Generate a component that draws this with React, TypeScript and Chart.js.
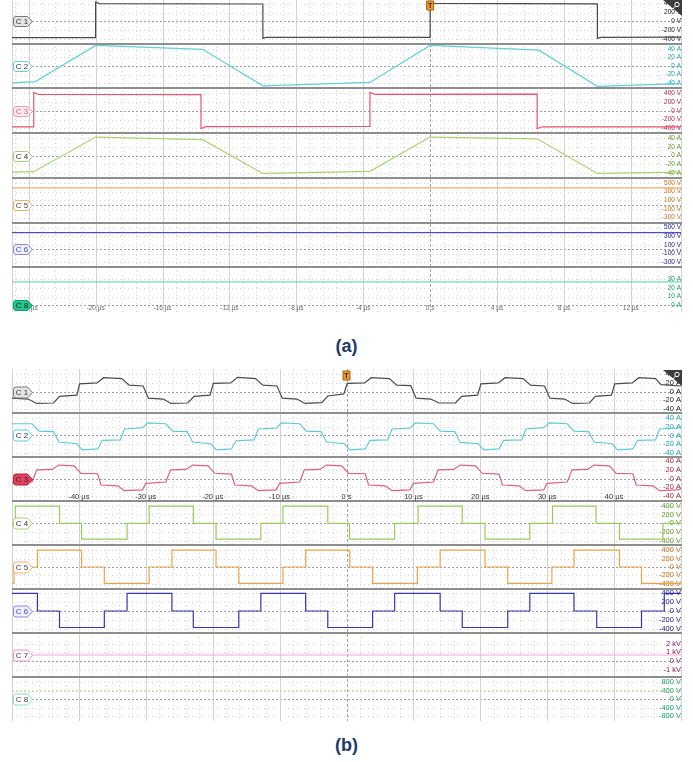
import React, { useEffect, useRef } from "react";
import { Chart, registerables } from "chart.js";

Chart.register(...registerables);

// ================= Panel (a) data =================
const A_TIME_MIN = -25;
const A_TIME_MAX = 15;
const A_TIME_TICKS = [-24, -20, -16, -12, -8, -4, 0, 4, 8, 12];
const A_TIME_LABELS = ["-24 µs", "-20 µs", "-16 µs", "-12 µs", "-8 µs", "-4 µs", "0 s", "4 µs", "8 µs", "12 µs"];

const A_C1_T = [-25, -20, -20, -19.8, -10, -10, -9.8, 0, 0, 0.2, 10, 10, 10.2, 15];
const A_C1_V = [-368, -366, 440, 400, 392, -385, -362, -360, 440, 408, 395, -385, -362, -358];

const A_C2_T = [-25, -23.6, -20, -13.6, -10, -3.6, 0, 6.5, 10, 15];
const A_C2_V = [-39, -36, 48, 39, -46, -38, 48, 37, -47, -41];

const A_C3_T = [-25, -23.7, -23.7, -23.4, -13.7, -13.7, -13.4, -3.6, -3.6, -3.3, 6.4, 6.4, 6.7, 15];
const A_C3_V = [-368, -368, 420, 372, 368, -405, -360, -356, 420, 375, 378, -405, -365, -368];

const A_C4_T = [-25, -23.7, -20, -13.6, -10, -3.6, 0, 6.4, 10, 15];
const A_C4_V = [-38, -37, 42, 36, -41, -36, 42, 38, -41, -38];

const A_C5_T = [-25, 15];
const A_C5_V = [384, 384];
const A_C6_T = [-25, 15];
const A_C6_V = [384, 384];
const A_C8_T = [-25, 15];
const A_C8_V = [27, 27];

const A_C1_TICKS = [400, 200, 0, -200, -400];
const A_C2_TICKS = [40, 20, 0, -20, -40];
const A_C3_TICKS = [400, 200, 0, -200, -400];
const A_C4_TICKS = [40, 20, 0, -20, -40];
const A_C5_TICKS = [500, 300, 100, -100, -300];
const A_C6_TICKS = [500, 300, 100, -100, -300];
const A_C8_TICKS = [30, 20, 10, 0];

// ================= Panel (b) data =================
const B_TIME_MIN = -50;
const B_TIME_MAX = 50;
const B_TIME_TICKS = [-40, -30, -20, -10, 0, 10, 20, 30, 40];
const B_TIME_LABELS = ["-40 µs", "-30 µs", "-20 µs", "-10 µs", "0 s", "10 µs", "20 µs", "30 µs", "40 µs"];

const B_C1_T = [-50, -47.6, -46.3, -43.8, -42.9, -40.3,
  -39.9, -37.3, -36.3, -33.6, -32.5, -30.4, -29.6, -27.4, -26.2, -23.7, -22.8, -20.4,
  -19.9, -17.3, -16.3, -13.6, -12.5, -10.4, -9.6, -7.4, -6.2, -3.7, -2.8, -0.4,
  0.1, 2.7, 3.7, 6.4, 7.5, 9.6, 10.4, 12.6, 13.8, 16.3, 17.2, 19.6,
  20.1, 22.7, 23.7, 26.4, 27.5, 29.6, 30.4, 32.6, 33.8, 36.3, 37.2, 39.6,
  40.1, 42.7, 43.7, 46.2, 47.0, 50];
const B_C1_V = [-15, -17, -27, -26, -11, -8,
  18, 20, 32, 30, 15, 13, -15, -17, -27, -26, -11, -8,
  19, 20, 33, 30, 15, 13, -15, -17, -27, -25, -10, -5,
  19, 20, 32, 30, 15, 14, -15, -17, -26, -26, -11, -8,
  18, 20, 32, 30, 15, 13, -15, -17, -27, -26, -11, -8,
  18, 20, 32, 30, 16, 13];

const B_C2_T = [-50, -47.0, -46.0, -43.8, -43.0, -40.3, -39.5, -37.2, -36.5, -33.8,
  -33.2, -30.5, -29.7, -27.0, -26.0, -23.8, -23.0, -20.3, -19.5, -17.2, -16.5, -13.8,
  -13.2, -10.5, -9.7, -7.0, -6.0, -3.8, -3.0, -0.3, 0.5, 2.8, 3.5, 6.2,
  6.8, 9.5, 10.3, 13.0, 14.0, 16.2, 17.0, 19.7, 20.5, 22.8, 23.5, 26.2,
  26.8, 29.5, 30.3, 33.0, 34.0, 36.2, 37.0, 39.7, 40.5, 42.8, 43.5, 46.2,
  46.8, 49.5, 50];
const B_C2_V = [27, 27, 10, 9, -15, -19, -33, -31, -11, -10,
  15, 18, 29, 27, 10, 9, -15, -19, -33, -31, -12, -10,
  15, 17, 29, 27, 10, 9, -15, -19, -33, -31, -11, -10,
  15, 17, 29, 27, 10, 9, -16, -19, -33, -31, -11, -10,
  15, 18, 29, 27, 10, 9, -15, -19, -33, -31, -11, -10,
  15, 17, 22];

const B_C3_T = [-50, -47.0,
  -46.3, -44.0, -43.0, -40.7, -39.7, -37.2, -36.7, -34.2, -33.2, -30.5, -30.0, -27.0,
  -26.3, -24.0, -23.0, -20.7, -19.7, -17.2, -16.7, -14.2, -13.2, -10.5, -10.0, -7.0,
  -6.3, -4.0, -3.0, -0.7, 0.3, 2.8, 3.3, 5.8, 6.8, 9.5, 10.0, 13.0,
  13.7, 16.0, 17.0, 19.3, 20.3, 22.8, 23.3, 25.8, 26.8, 29.5, 30.0, 33.0,
  33.7, 36.0, 37.0, 39.3, 40.3, 42.8, 43.3, 45.8, 46.8, 49.5, 50];
const B_C3_V = [-10, -8,
  20, 21, 31, 29, 12, 11, -15, -17, -28, -26, -11, -8,
  20, 21, 31, 29, 12, 10, -15, -17, -28, -26, -11, -8,
  20, 21, 31, 29, 12, 11, -15, -17, -28, -26, -11, -8,
  20, 21, 31, 29, 12, 10, -15, -17, -28, -26, -11, -8,
  20, 21, 31, 29, 12, 11, -15, -17, -28, -26, -24];

const B_C4_T = [-50, -49.5, -42.9, -39.6, -32.8, -29.5, -22.9, -19.5, -12.8, -9.5, -2.8, 0.45, 7.2, 10.7, 17.3, 20.7, 27.4, 30.8, 37.3, 40.8, 47.3, 50];
const B_C4_V = [0, 390, 0, -360, 0, 390, 0, -360, 0, 390, 0, -360, 0, 390, 0, -360, 0, 390, 0, -360, 0, 0];

const B_C5_T = [-50, -49.7, -46.2, -39.6, -36.2, -29.5, -26.1, -19.5, -16.1, -9.5, -6.1, 0.5, 3.9, 10.6, 14.0, 20.7, 24.1, 30.7, 34.0, 40.8, 44.1, 50];
const B_C5_V = [-390, 0, 400, 0, -390, 0, 400, 0, -390, 0, 400, 0, -390, 0, 400, 0, -390, 0, 400, 0, -390, -390];

const B_C6_T = [-50, -46.2, -42.9, -36.2, -32.8, -26.1, -22.9, -16.1, -12.8, -6.1, -2.8, 3.9, 7.2, 14.0, 17.3, 24.1, 27.4, 34.0, 37.4, 44.1, 47.5, 50];
const B_C6_V = [400, 0, -375, 0, 400, 0, -375, 0, 400, 0, -375, 0, 400, 0, -375, 0, 400, 0, -375, 0, 400, 400];

const B_C7_T = [-50, 50];
const B_C7_V = [690, 690];
const B_C8_T = [-50, 50];
const B_C8_V = [390, 390];

const B_C1_TICKS = [40, 20, 0, -20, -40];
const B_C2_TICKS = [40, 20, 0, -20, -40];
const B_C3_TICKS = [40, 20, 0, -20, -40];
const B_C4_TICKS = [400, 200, 0, -200, -400];
const B_C5_TICKS = [400, 200, 0, -200, -400];
const B_C6_TICKS = [400, 200, 0, -200, -400];
const B_C7_TICKS = [2000, 1000, 0, -1000];
const B_C8_TICKS = [800, 400, 0, -400, -800];

// ================= channel configuration =================
const PANEL_A = {
  key: "a",
  xMin: A_TIME_MIN, xMax: A_TIME_MAX, major: 4, minor: 0.8,
  timeTicks: A_TIME_TICKS, timeLabels: A_TIME_LABELS,
  labelAxis: "c8", labelOffset: 4, labelFont: '6.5px "Liberation Sans", Arial', labelColor: "#6b6b6b",
  tickFont: 6.5, tagH: 10,
  channels: [
    { id: "c1", name: "C 1", t: A_C1_T, v: A_C1_V, ticks: A_C1_TICKS, min: -505, max: 505, unit: "V", color: "#4a4a4a", tickColor: "#222", tagFill: "#e4e4e4", tagStroke: "#7a7a7a", tagText: "#333" },
    { id: "c2", name: "C 2", t: A_C2_T, v: A_C2_V, ticks: A_C2_TICKS, min: -52, max: 52, unit: "A", color: "#62cfdc", tickColor: "#1aa3b3", tagFill: "#ffffff", tagStroke: "#62cfdc", tagText: "#333" },
    { id: "c3", name: "C 3", t: A_C3_T, v: A_C3_V, ticks: A_C3_TICKS, min: -510, max: 510, unit: "V", color: "#e8566f", tickColor: "#ad2a40", tagFill: "#fde9ee", tagStroke: "#f39ab0", tagText: "#e0607a" },
    { id: "c4", name: "C 4", t: A_C4_T, v: A_C4_V, ticks: A_C4_TICKS, min: -51, max: 51, unit: "A", color: "#a6d46c", tickColor: "#5e9a20", tagFill: "#ffffff", tagStroke: "#a6d46c", tagText: "#333" },
    { id: "c5", name: "C 5", t: A_C5_T, v: A_C5_V, ticks: A_C5_TICKS, min: -414, max: 614, unit: "V", color: "#f5ad62", tickColor: "#c0701c", tagFill: "#ffffff", tagStroke: "#f5ad62", tagText: "#444" },
    { id: "c6", name: "C 6", t: A_C6_T, v: A_C6_V, ticks: A_C6_TICKS, min: -414, max: 614, unit: "V", color: "#4d4dc6", tickColor: "#1e1e7e", tagFill: "#eef0ff", tagStroke: "#8a8ae0", tagText: "#4545c0" },
    { id: "c8", name: "C 8", t: A_C8_T, v: A_C8_V, ticks: A_C8_TICKS, min: -7.7, max: 43.7, unit: "A", color: "#6ddcb6", tickColor: "#17a06e", tagFill: "#1fc68c", tagStroke: "#12a070", tagText: "#1a1a1a" },
  ],
};

const PANEL_B = {
  key: "b",
  xMin: B_TIME_MIN, xMax: B_TIME_MAX, major: 10, minor: 2,
  timeTicks: B_TIME_TICKS, timeLabels: B_TIME_LABELS,
  labelAxis: "c3", labelOffset: 4, labelFont: '7.5px "Liberation Sans", Arial', labelColor: "#333",
  tickFont: 7.5, tagH: 11,
  channels: [
    { id: "c1", name: "C 1", t: B_C1_T, v: B_C1_V, ticks: B_C1_TICKS, min: -49, max: 52, unit: "A", color: "#4a4a4a", tickColor: "#222", tagFill: "#e4e4e4", tagStroke: "#7a7a7a", tagText: "#333" },
    { id: "c2", name: "C 2", t: B_C2_T, v: B_C2_V, ticks: B_C2_TICKS, min: -49.5, max: 51.8, unit: "A", color: "#5ccbd9", tickColor: "#1aa3b3", tagFill: "#ffffff", tagStroke: "#5ccbd9", tagText: "#333" },
    { id: "c3", name: "C 3", t: B_C3_T, v: B_C3_V, ticks: B_C3_TICKS, min: -51.8, max: 49.5, unit: "A", color: "#e55c7c", tickColor: "#ad2a40", tagFill: "#e2405e", tagStroke: "#b2203c", tagText: "#2a2a2a" },
    { id: "c4", name: "C 4", t: B_C4_T, v: B_C4_V, ticks: B_C4_TICKS, min: -493, max: 506, unit: "V", color: "#98cc58", tickColor: "#5e9a20", tagFill: "#ffffff", tagStroke: "#a6d46c", tagText: "#333", stepped: true },
    { id: "c5", name: "C 5", t: B_C5_T, v: B_C5_V, ticks: B_C5_TICKS, min: -524, max: 524, unit: "V", color: "#f0a444", tickColor: "#c0701c", tagFill: "#ffffff", tagStroke: "#f5ad62", tagText: "#444", stepped: true },
    { id: "c6", name: "C 6", t: B_C6_T, v: B_C6_V, ticks: B_C6_TICKS, min: -500, max: 500, unit: "V", color: "#3636b2", tickColor: "#1e1e7e", tagFill: "#eef0ff", tagStroke: "#8a8ae0", tagText: "#4545c0", stepped: true },
    { id: "c7", name: "C 7", t: B_C7_T, v: B_C7_V, ticks: B_C7_TICKS, min: -1840, max: 3220, unit: "kV", color: "#f3a6d2", tickColor: "#8c1c5c", tagFill: "#ffffff", tagStroke: "#f28cc6", tagText: "#444", tagLevel: 690 },
    { id: "c8", name: "C 8", t: B_C8_T, v: B_C8_V, ticks: B_C8_TICKS, min: -1020, max: 1048, unit: "V", color: "#b6de78", tickColor: "#17a06e", tagFill: "#ffffff", tagStroke: "#7fe0c4", tagText: "#444", dash: [2, 2] },
  ],
};

const PAD = 8;

function fmt(v: number, unit: string) {
  if (unit === "kV") return v === 0 ? "0 V" : `${v / 1000} kV`;
  return `${v} ${unit}`;
}

function hline(ctx: CanvasRenderingContext2D, x1: number, x2: number, y: number) {
  ctx.beginPath();
  ctx.moveTo(x1, y);
  ctx.lineTo(x2, y);
  ctx.stroke();
}
function vline(ctx: CanvasRenderingContext2D, x: number, y1: number, y2: number) {
  ctx.beginPath();
  ctx.moveTo(x, y1);
  ctx.lineTo(x, y2);
  ctx.stroke();
}

function drawGrid(chart: any, cfg: any) {
  const { ctx, chartArea: ca } = chart;
  const xs = chart.scales.x;
  ctx.save();
  ctx.lineWidth = 1;
  // horizontal division rows
  ctx.setLineDash([1, 3]);
  ctx.strokeStyle = "#d4d4d4";
  cfg.channels.forEach((ch: any) => {
    const ys = chart.scales[ch.id];
    ch.ticks.forEach((v: number) => {
      if (v === 0) return;
      const y = Math.round(ys.getPixelForValue(v)) + 0.5;
      hline(ctx, ca.left, ca.right, y);
    });
  });
  // vertical minor dotted
  const n = Math.ceil((cfg.xMax - cfg.xMin) / cfg.minor) + 2;
  for (let k = -n; k <= n; k++) {
    const v = k * cfg.minor;
    if (v <= cfg.xMin || v >= cfg.xMax) continue;
    const r = v / cfg.major;
    if (Math.abs(r - Math.round(r)) < 1e-6) continue;
    const x = Math.round(xs.getPixelForValue(v)) + 0.5;
    vline(ctx, x, ca.top, ca.bottom);
  }
  // zero rows
  ctx.setLineDash([2, 2]);
  ctx.strokeStyle = "#9e9e9e";
  cfg.channels.forEach((ch: any) => {
    const ys = chart.scales[ch.id];
    const y = Math.round(ys.getPixelForValue(0)) + 0.5;
    hline(ctx, ca.left, ca.right, y);
  });
  // vertical major solid
  ctx.setLineDash([]);
  ctx.strokeStyle = "#d2d2d2";
  [cfg.xMin, ...cfg.timeTicks, cfg.xMax].forEach((v: number) => {
    if (v === 0) return;
    const x = Math.round(xs.getPixelForValue(v)) + 0.5;
    vline(ctx, x, ca.top, ca.bottom);
  });
  ctx.setLineDash([3, 2]);
  ctx.strokeStyle = "#a6a6a6";
  const x0 = Math.round(xs.getPixelForValue(0)) + 0.5;
  vline(ctx, x0, ca.top, ca.bottom);
  // band separators
  ctx.setLineDash([]);
  ctx.strokeStyle = "#8e8e8e";
  ctx.lineWidth = 2;
  cfg.channels.slice(0, -1).forEach((ch: any) => {
    const ys = chart.scales[ch.id];
    hline(ctx, ca.left, ca.right + 1, Math.round(ys.bottom));
  });
  ctx.restore();
}

function drawTag(ctx: CanvasRenderingContext2D, x: number, y: number, h: number, ch: any) {
  const w = 19;
  const p = 5;
  const r = 2.5;
  const t = y - h / 2;
  const b = y + h / 2;
  ctx.beginPath();
  ctx.moveTo(x + r, t);
  ctx.lineTo(x + w - p, t);
  ctx.lineTo(x + w, y);
  ctx.lineTo(x + w - p, b);
  ctx.lineTo(x + r, b);
  ctx.quadraticCurveTo(x, b, x, b - r);
  ctx.lineTo(x, t + r);
  ctx.quadraticCurveTo(x, t, x + r, t);
  ctx.closePath();
  ctx.fillStyle = ch.tagFill;
  ctx.fill();
  ctx.lineWidth = 1;
  ctx.strokeStyle = ch.tagStroke;
  ctx.stroke();
  ctx.fillStyle = ch.tagText;
  ctx.font = '8px "Liberation Sans", Arial';
  ctx.textAlign = "center";
  ctx.textBaseline = "middle";
  ctx.fillText(ch.name, x + (w - p) / 2 + 1.5, y + 0.5);
}

function drawOverlay(chart: any, cfg: any) {
  const { ctx, chartArea: ca } = chart;
  const xs = chart.scales.x;
  ctx.save();
  // time labels
  const la = chart.scales[cfg.labelAxis];
  ctx.font = cfg.labelFont;
  ctx.fillStyle = cfg.labelColor;
  ctx.textAlign = "center";
  ctx.textBaseline = "middle";
  cfg.timeTicks.forEach((v: number, i: number) => {
    ctx.fillText(cfg.timeLabels[i], xs.getPixelForValue(v), la.bottom - cfg.labelOffset);
  });
  // channel tags
  cfg.channels.forEach((ch: any) => {
    const ys = chart.scales[ch.id];
    const y = Math.round(ys.getPixelForValue(ch.tagLevel ?? 0)) + 0.5;
    drawTag(ctx, ca.left + 1.5, y, cfg.tagH, ch);
  });
  // trigger marker
  const tx = xs.getPixelForValue(0);
  const tt = ca.top + 2;
  ctx.fillStyle = "#f39a26";
  ctx.strokeStyle = "#a85f0c";
  ctx.lineWidth = 1;
  ctx.beginPath();
  ctx.rect(tx - 3.5, tt, 7, 9);
  ctx.fill();
  ctx.stroke();
  ctx.fillStyle = "#222";
  ctx.font = 'bold 7px "Liberation Sans", Arial';
  ctx.textAlign = "center";
  ctx.textBaseline = "middle";
  ctx.fillText("T", tx, tt + 5);
  // top-right triangle
  const rx = ca.right + 1;
  const ty = ca.top + 1;
  ctx.fillStyle = "#3d3d3d";
  ctx.beginPath();
  ctx.moveTo(rx - 19, ty);
  ctx.lineTo(rx, ty);
  ctx.lineTo(rx, ty + 16);
  ctx.closePath();
  ctx.fill();
  ctx.strokeStyle = "#ffffff";
  ctx.lineWidth = 1;
  ctx.beginPath();
  ctx.arc(rx - 5, ty + 4.5, 2.2, 0, Math.PI * 2);
  ctx.stroke();
  ctx.beginPath();
  ctx.moveTo(rx - 6.5, ty + 6);
  ctx.lineTo(rx - 9, ty + 9);
  ctx.stroke();
  ctx.restore();
}

function buildConfig(cfg: any): any {
  const scales: any = {
    x: {
      type: "linear",
      min: cfg.xMin,
      max: cfg.xMax,
      display: true,
      ticks: { display: false },
      grid: { display: false },
      border: { display: false },
      afterFit: (s: any) => { s.height = 0; },
    },
  };
  cfg.channels.forEach((ch: any) => {
    scales[ch.id] = {
      type: "linear",
      position: "right",
      stack: "scope",
      stackWeight: 1,
      min: ch.min,
      max: ch.max,
      afterBuildTicks: (s: any) => { s.ticks = ch.ticks.map((v: number) => ({ value: v })); },
      afterFit: (s: any) => { s.width = 0; },
      grid: { display: false, drawTicks: false },
      border: { display: false },
      ticks: {
        mirror: true,
        padding: 0,
        autoSkip: false,
        color: ch.tickColor,
        font: { family: '"Liberation Sans", Arial', size: cfg.tickFont },
        callback: (v: any) => fmt(Number(v), ch.unit),
      },
    };
  });
  const datasets = cfg.channels.map((ch: any) => ({
    label: ch.name,
    data: ch.t.map((t: number, i: number) => ({ x: t, y: ch.v[i] })),
    xAxisID: "x",
    yAxisID: ch.id,
    borderColor: ch.color,
    borderWidth: 1.2,
    borderDash: ch.dash || [],
    pointRadius: 0,
    fill: false,
    tension: 0,
    stepped: ch.stepped ? "before" : false,
  }));
  return {
    type: "line",
    data: { datasets },
    options: {
      animation: false,
      responsive: false,
      devicePixelRatio: 1,
      layout: { padding: { left: 12, right: 12, top: PAD, bottom: PAD } },
      scales,
      plugins: { legend: { display: false }, tooltip: { enabled: false } },
      events: [],
    },
    plugins: [
      {
        id: "scope_" + cfg.key,
        beforeDraw: (chart: any) => drawGrid(chart, cfg),
        afterDatasetsDraw: (chart: any) => drawOverlay(chart, cfg),
      },
    ],
  };
}

function ScopePanel({ cfg, top, height }: { cfg: any; top: number; height: number }) {
  const ref = useRef<HTMLCanvasElement>(null);
  const h = height + 2 * PAD;
  useEffect(() => {
    const chart = new Chart(ref.current as HTMLCanvasElement, buildConfig(cfg));
    return () => chart.destroy();
  }, [cfg]);
  return (
    <canvas
      ref={ref}
      width={693}
      height={h}
      style={{ position: "absolute", left: 0, top: top - PAD, width: 693, height: h }}
    />
  );
}

const captionStyle: React.CSSProperties = {
  position: "absolute",
  left: 0,
  width: 693,
  textAlign: "center",
  font: 'bold 18px "Liberation Sans", Arial, sans-serif',
  lineHeight: "20px",
  color: "#1d3a6c",
};

export default function App() {
  return (
    <div style={{ position: "fixed", left: 0, top: 0, width: 693, height: 762, background: "#fff", overflow: "hidden" }}>
      <ScopePanel cfg={PANEL_A} top={-1} height={313} />
      <div style={{ ...captionStyle, top: 336 }}>(a)</div>
      <ScopePanel cfg={PANEL_B} top={369} height={352} />
      <div style={{ ...captionStyle, top: 735 }}>(b)</div>
    </div>
  );
}
